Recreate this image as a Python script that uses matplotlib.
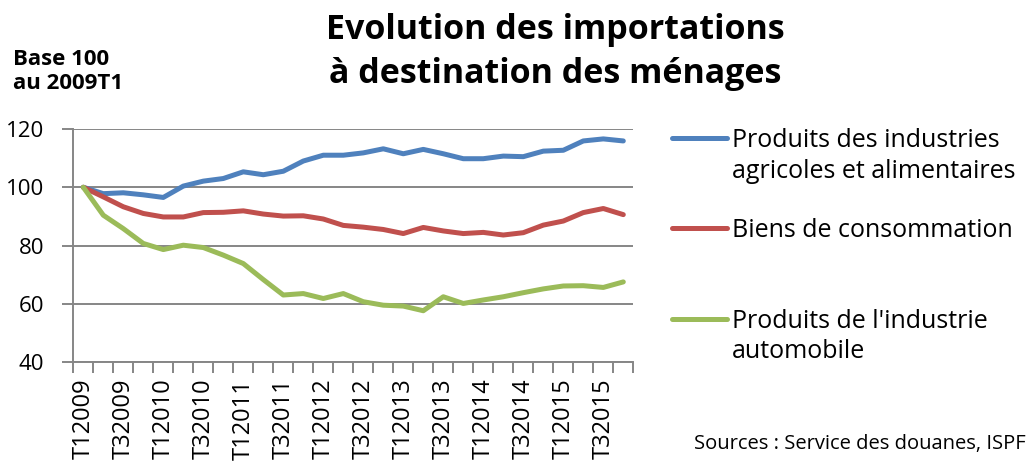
import matplotlib
matplotlib.use("Agg")
import matplotlib.pyplot as plt
from matplotlib.lines import Line2D
import numpy as np

quarters = [f"T{q}{y}" for y in range(2009, 2016) for q in (1, 2, 3, 4)]
agri = [100, 97.8, 98.1, 97.4, 96.5, 100.4, 102.1, 103.0, 105.3, 104.3,
        105.5, 109.0, 111.0, 111.0, 111.8, 113.2, 111.5, 113.0, 111.5, 109.8,
        109.8, 110.7, 110.5, 112.4, 112.7, 115.9, 116.6, 115.9]
conso = [100, 96.7, 93.3, 91.0, 89.8, 89.8, 91.3, 91.4, 91.9, 90.8,
         90.1, 90.2, 89.1, 86.9, 86.3, 85.5, 84.1, 86.2, 85.0, 84.1,
         84.5, 83.6, 84.4, 87.0, 88.4, 91.3, 92.7, 90.6]
auto = [100, 90.4, 85.8, 80.7, 78.6, 80.1, 79.3, 76.7, 73.8, 68.3,
        63.0, 63.5, 61.8, 63.5, 60.7, 59.5, 59.2, 57.6, 62.4, 60.1,
        61.3, 62.4, 63.8, 65.1, 66.1, 66.2, 65.6, 67.5]
series_labels = ["Produits des industries\nagricoles et alimentaires",
                 "Biens de consommation",
                 "Produits de l'industrie\nautomobile"]
colors = ["#4F81BD", "#C0504D", "#9BBB59"]
yticks = [40, 60, 80, 100, 120]
title_lines = ["Evolution des importations", "à destination des ménages"]
unit_lines = ["Base 100", "au 2009T1"]
source_text = "Sources : Service des douanes, ISPF"

W, H = 1030, 463
fig = plt.figure(figsize=(W / 100, H / 100), dpi=100)
ax = fig.add_axes([73.3 / W, 1 - 362 / H, 560 / W, 233 / H])

FONT = "Open Sans"
x = np.arange(len(quarters))
for vals, c, lab in zip([agri, conso, auto], colors, series_labels):
    ax.plot(x, vals, color=c, lw=3.6, solid_capstyle="round",
            solid_joinstyle="round", label=lab)

grid_c = "#868686"
ax.set_xlim(-0.5, len(quarters) - 0.5)
ax.set_ylim(40, 120)
ax.set_yticks(yticks)
ax.yaxis.grid(True, color=grid_c, lw=1.4)
ax.set_axisbelow(True)
for s in ("top", "right"):
    ax.spines[s].set_visible(False)
for s in ("left", "bottom"):
    ax.spines[s].set_color(grid_c)
    ax.spines[s].set_linewidth(1.4)

ax.tick_params(axis="y", length=8, width=1.4, color=grid_c, pad=13, labelsize=16)
for t in ax.get_yticklabels():
    t.set_fontfamily(FONT)

ax.set_xticks(x[::2])
ax.set_xticklabels(quarters[::2], rotation=90, fontsize=17, fontfamily=FONT)
ax.set_xticks(np.arange(-0.5, len(quarters)), minor=True)
ax.tick_params(axis="x", which="major", length=0, pad=12)
ax.tick_params(axis="x", which="minor", length=8, width=1.4, color=grid_c)

# title
for line, base in zip(title_lines, [39, 83]):
    fig.text(555 / W, 1 - base / H, line, ha="center", va="baseline",
             fontsize=24.5, fontweight="bold", fontfamily=FONT)
# unit label
for line, base in zip(unit_lines, [65, 89]):
    fig.text(13 / W, 1 - base / H, line, ha="left", va="baseline",
             fontsize=16, fontweight="bold", fontfamily=FONT)

# legend (manual placement, key aligned with first text line)
label_baselines = [[147, 178], [237], [328, 358]]
for lab, c, bases in zip(series_labels, colors, label_baselines):
    ky = bases[0] - 9
    fig.add_artist(Line2D([672 / W, 727 / W], [1 - ky / H, 1 - ky / H],
                          transform=fig.transFigure, color=c, lw=3.6,
                          solid_capstyle="round"))
    for line, base in zip(lab.split("\n"), bases):
        fig.text(732 / W, 1 - base / H, line, ha="left", va="baseline",
                 fontsize=18, fontfamily=FONT)

fig.text(1026 / W, 1 - 449 / H, source_text, ha="right", va="baseline",
         fontsize=14.5, fontfamily=FONT)

fig.savefig("out.png", dpi=100)
